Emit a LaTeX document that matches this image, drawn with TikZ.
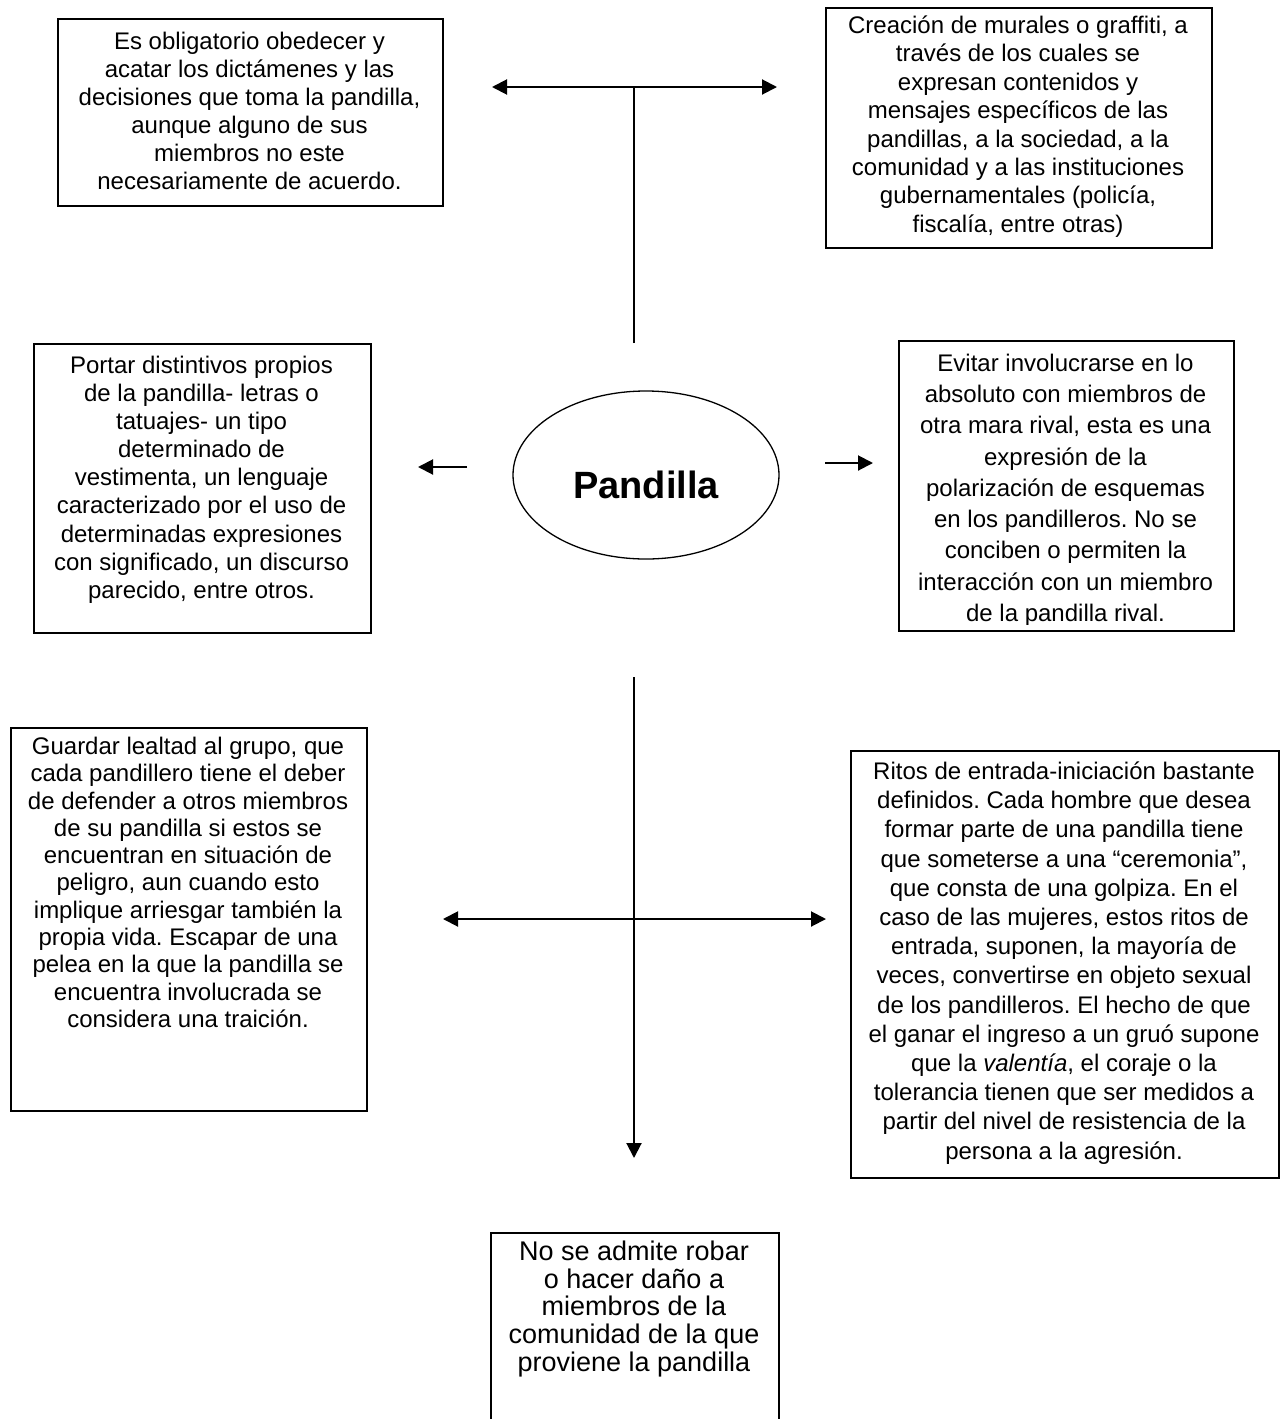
\documentclass[tikz,border=0pt]{standalone}
\usepackage{fontspec}
\setmainfont{Liberation Sans}
\usetikzlibrary{arrows.meta,shapes.geometric}
\frenchspacing
\newcommand{\firstln}{\rule{0pt}{23pt}}
\newcommand{\firstlnb}{\rule{0pt}{26pt}}
\tikzset{
  boxnode/.style={draw, line width=1.6pt, inner sep=0pt, anchor=north west},
  txt/.style={inner sep=0pt, anchor=north, align=center, font=\fontsize{24}{28}\selectfont},
  txtbig/.style={inner sep=0pt, anchor=north, align=center, font=\fontsize{27}{27.8}\selectfont},
  conn/.style={line width=2pt},
  arr/.style={conn, -{Triangle[length=15pt,width=15pt]}},
  darr/.style={conn, {Triangle[length=15pt,width=15pt]}-{Triangle[length=15pt,width=15pt]}}
}
\begin{document}
\begin{tikzpicture}[x=1pt,y=-1pt]
\useasboundingbox (0,0) rectangle (1282,1419);
% boxes
\node[boxnode, minimum width=385pt, minimum height=187pt] (b1) at (57,18) {};
\node[boxnode, minimum width=386pt, minimum height=240pt] (b2) at (825,7) {};
\node[boxnode, minimum width=337pt, minimum height=289pt] (b3) at (33,343) {};
\node[boxnode, minimum width=335pt, minimum height=290pt] (b4) at (898,340) {};
\node[boxnode, minimum width=356pt, minimum height=383pt] (b5) at (10,727) {};
\node[boxnode, minimum width=428pt, minimum height=427pt] (b6) at (850,750) {};
\node[boxnode, minimum width=288pt, minimum height=260pt] (b7) at (490,1232) {};
% texts
\node[txt] (t1) at (249.5,26.2) {\firstln Es obligatorio obedecer y\\acatar los dictámenes y las\\decisiones que toma la pandilla,\\aunque alguno de sus\\miembros no este\\necesariamente de acuerdo.};
\node[txt, font=\fontsize{24}{28.4}\selectfont] (t2) at (1018,10.2) {\firstln Creación de murales o graffiti, a\\través de los cuales se\\expresan contenidos y\\mensajes específicos de las\\pandillas, a la sociedad, a la\\comunidad y a las instituciones\\gubernamentales (policía,\\fiscalía, entre otras)};
\node[txt, font=\fontsize{24}{28.1}\selectfont] (t3) at (201.5,350.2) {\firstln Portar distintivos propios\\de la pandilla- letras o\\tatuajes- un tipo\\determinado de\\vestimenta, un lenguaje\\caracterizado por el uso de\\determinadas expresiones\\con significado, un discurso\\parecido, entre otros.};
\begin{scope}
\clip (b4.north west) rectangle ([yshift=7pt]b4.south east);
\node[txt, font=\fontsize{24}{31.25}\selectfont] (t4) at (1065.5,348.2) {\firstln Evitar involucrarse en lo\\absoluto con miembros de\\otra mara rival, esta es una\\expresión de la\\polarización de esquemas\\en los pandilleros. No se\\conciben o permiten la\\interacción con un miembro\\de la pandilla rival.};
\end{scope}
\node[txt, font=\fontsize{24}{27.3}\selectfont] (t5) at (188,731.2) {\firstln Guardar lealtad al grupo, que\\cada pandillero tiene el deber\\de defender a otros miembros\\de su pandilla si estos se\\encuentran en situación de\\peligro, aun cuando esto\\implique arriesgar también la\\propia vida. Escapar de una\\pelea en la que la pandilla se\\encuentra involucrada se\\considera una traición.};
\node[txt, font=\fontsize{24}{29.2}\selectfont] (t6) at (1064,756.2) {\firstln Ritos de entrada-iniciación bastante\\definidos. Cada hombre que desea\\formar parte de una pandilla tiene\\que someterse a una “ceremonia”,\\que consta de una golpiza. En el\\caso de las mujeres, estos ritos de\\entrada, suponen, la mayoría de\\veces, convertirse en objeto sexual\\de los pandilleros. El hecho de que\\el ganar el ingreso a un gruó supone\\que la \textit{valentía}, el coraje o la\\tolerancia tienen que ser medidos a\\partir del nivel de resistencia de la\\persona a la agresión.};
\node[txtbig] (t7) at (634,1234) {\firstlnb No se admite robar\\o hacer daño a\\miembros de la\\comunidad de la que\\proviene la pandilla};
% center
\node[draw, ellipse, line width=1.3pt, minimum width=266pt, minimum height=168pt, inner sep=0pt,
      text height=47pt, text depth=0pt, font=\fontsize{38}{40}\selectfont\bfseries] (c) at (646,475) {Pandilla};
% connectors
\coordinate (ttop) at (634,87);
\coordinate (tbot) at (634,343);
\coordinate (tl) at (492,87);
\coordinate (tr) at (777,87);
\draw[conn] (tbot) -- (ttop);
\draw[darr] (tl) -- (tr);
\coordinate (la) at (467,467);
\coordinate (lb) at (418,467);
\draw[arr] (la) -- (lb);
\coordinate (ra) at (825,463);
\coordinate (rb) at (873,463);
\draw[arr] (ra) -- (rb);
\coordinate (vtop) at (634,677);
\coordinate (vbot) at (634,1158);
\draw[arr] (vtop) -- (vbot);
\coordinate (hl) at (443,919);
\coordinate (hr) at (826,919);
\draw[darr] (hl) -- (hr);
\end{tikzpicture}
\end{document}
